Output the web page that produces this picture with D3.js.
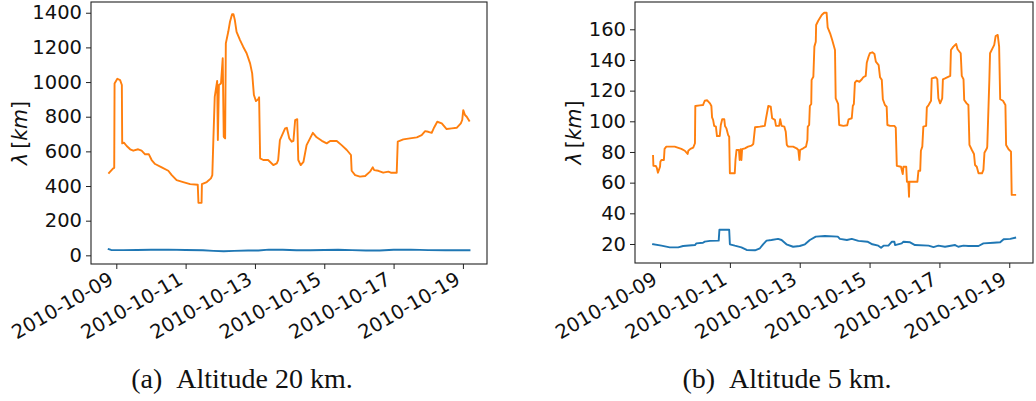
<!DOCTYPE html>
<html><head><meta charset="utf-8">
<script src="https://cdn.jsdelivr.net/npm/d3@7"></script>
<style>body{margin:0;background:#fff}svg{display:block}</style>
</head><body>
<svg id="c" width="1036" height="401"></svg>
<script>
// Day-of-October (fractional, UTC) and values
const tA_orange = [8.79,8.91,8.94,8.95,9.03,9.11,9.16,9.17,9.22,9.30,9.40,9.49,9.63,9.73,9.83,9.94,10.02,10.12,10.31,10.50,10.60,10.74,10.93,11.13,11.35,11.37,11.46,11.47,11.61,11.73,11.77,11.80,11.84,11.91,11.93,11.96,12.02,12.07,12.10,12.14,12.16,12.23,12.28,12.34,12.38,12.42,12.47,12.57,12.66,12.76,12.86,12.92,12.97,13.03,13.09,13.12,13.15,13.24,13.38,13.53,13.63,13.67,13.72,13.87,13.92,13.99,14.06,14.11,14.16,14.22,14.25,14.32,14.40,14.49,14.59,14.67,14.78,14.93,15.07,15.17,15.36,15.50,15.65,15.77,15.79,15.89,16.03,16.18,16.32,16.40,16.44,16.56,16.70,16.85,16.92,17.09,17.12,17.28,17.47,17.67,17.81,17.91,18.00,18.10,18.17,18.26,18.39,18.53,18.68,18.82,18.94,18.98,19.01,19.06,19.11,19.18];
const vA_orange = [476,502,505,992,1019,1011,983,646,650,631,612,604,612,604,583,583,550,527,508,488,463,434,423,411,407,303,303,411,423,444,463,665,915,1006,665,983,992,1137,684,675,1223,1290,1348,1392,1392,1358,1290,1242,1204,1166,1108,1050,925,890,900,912,560,550,550,521,531,550,665,733,736,675,656,661,781,786,550,521,540,636,675,707,681,661,646,660,660,636,608,579,488,463,454,458,483,508,492,488,477,483,477,477,656,669,675,681,694,717,713,707,738,771,762,729,733,736,762,781,838,810,800,777];
const tA_blue = [8.78,8.85,9.2,9.6,10.0,10.5,11.0,11.5,11.8,12.1,12.4,12.8,13.1,13.4,13.8,14.2,14.6,15.0,15.4,15.8,16.2,16.6,17.0,17.5,18.0,18.5,19.19];
const vA_blue = [36,31,30,31,32,33,31,29,26,24,26,28,28,33,32,29,29,31,32,30,28,28,32,33,30,29,29];

const tB_orange = [8.80,8.81,8.88,8.91,8.94,9.00,9.01,9.04,9.11,9.13,9.18,9.42,9.61,9.71,9.79,9.81,9.87,9.95,10.00,10.01,10.14,10.23,10.28,10.35,10.43,10.47,10.49,10.52,10.55,10.60,10.63,10.71,10.74,10.78,10.84,10.86,10.90,10.95,10.98,11.00,11.14,11.16,11.19,11.26,11.28,11.31,11.33,11.35,11.43,11.52,11.62,11.67,11.72,11.86,12.00,12.03,12.10,12.17,12.21,12.29,12.32,12.41,12.44,12.48,12.56,12.60,12.63,12.67,12.81,12.91,12.96,12.99,13.01,13.10,13.18,13.22,13.23,13.27,13.29,13.33,13.34,13.39,13.42,13.46,13.47,13.53,13.63,13.70,13.77,13.80,13.87,13.93,14.01,14.03,14.10,14.13,14.25,14.36,14.40,14.49,14.52,14.55,14.58,14.63,14.71,14.78,14.82,14.89,14.92,14.97,15.01,15.08,15.14,15.18,15.26,15.30,15.35,15.38,15.44,15.49,15.51,15.59,15.71,15.75,15.78,15.90,15.95,15.97,16.05,16.07,16.11,16.13,16.14,16.37,16.40,16.45,16.47,16.51,16.54,16.62,16.64,16.69,16.76,16.78,16.90,16.94,16.97,17.02,17.08,17.10,17.16,17.31,17.33,17.40,17.48,17.52,17.61,17.64,17.69,17.71,17.78,17.83,17.86,17.93,17.99,18.02,18.07,18.12,18.22,18.26,18.29,18.36,18.37,18.43,18.45,18.52,18.57,18.61,18.67,18.71,18.74,18.82,18.89,18.91,18.98,19.05,19.07,19.17];
const vB_orange = [77.4,71,70.9,69.4,66.5,70.4,73.7,74.8,74.8,82,83.5,83.5,82,80.8,78.7,80.8,82,82.8,85.7,110,110.4,110.6,113.4,113.7,111.7,110,102.6,100.9,97,96.5,90.4,90.4,97.6,101.3,101.3,97,95.4,91.1,90,66.1,66.1,74.8,81.3,81.3,74.8,81.8,74.8,81.8,82.4,83.5,84.1,85.2,96.1,96.5,97,101.3,110,109.5,102,100.9,97,97,101.3,97,96.5,93.2,84.6,83.5,83.5,82.4,81.3,74.8,81.3,82.4,83.5,87.8,96.5,97.6,110,111.3,127,129.1,148.7,151.9,162.8,165.6,169.3,170.8,170.8,161.3,157.4,153,146.5,115,111.3,97.6,97,97.4,101.3,102,110,111.3,125.2,126.5,125.8,127.4,128.7,129.6,138.2,142.1,144.4,145,143.9,138.9,136.7,128.7,127,114.4,110.6,109.5,97.6,97,97,95.9,70.9,70.4,65.6,70.4,70.4,60.6,60.6,50.8,60.6,60.6,67.8,67.8,80.8,83.5,96.5,97,109.1,110.6,113.4,128,128.7,127.4,115,111.7,115,127.4,128,129.6,146.5,148.7,150.4,147,144.4,129.6,127.4,113.9,111.7,110.6,84.6,81.3,78.7,71.5,70.4,66.1,66.1,68.3,79.5,82.4,83.5,127,144.4,147.6,149.8,155.6,156.3,148.7,114.4,113.4,110.6,84.6,81.8,80.2,52,52];
const tB_blue = [8.80,9.04,9.28,9.52,9.66,10.00,10.04,10.23,10.28,10.43,10.68,10.70,10.98,11.00,11.14,11.33,11.48,11.72,11.86,11.95,12.05,12.19,12.38,12.48,12.62,12.81,13.00,13.15,13.29,13.46,13.72,14.09,14.15,14.35,14.49,14.68,14.94,15.08,15.25,15.33,15.40,15.54,15.64,15.71,15.73,15.92,15.97,16.16,16.30,16.69,16.83,16.97,17.16,17.45,17.54,17.69,17.83,18.12,18.26,18.55,18.74,18.84,19.03,19.17];
const vB_blue = [19.8,18.9,17.8,17.8,18.7,19.3,20.4,20.8,21.5,22,22.2,29.3,29.3,19.8,18.9,17.8,16.1,15.9,17.2,19.8,22.2,22.6,23.3,22.6,19.8,18.2,18.7,19.8,22.6,24.8,25.2,24.8,23.3,22.6,23.3,22,21.5,19.8,18.9,17.6,18.9,18.9,21.5,21.5,19.3,20.4,21.5,21.1,19.3,18.9,18,18.9,18.2,19.3,18.2,18.9,18.7,18.7,20.4,20.8,21.1,23.1,23.3,24.1];

const xTickDays = [9,11,13,15,17,19];
const yTicksA = [0,200,400,600,800,1000,1200,1400];
const yTicksB = [20,40,60,80,100,120,140,160];
const captions = ["(a)\u2002Altitude 20 km.", "(b)\u2002Altitude 5 km."];

const BLUE = "#1f77b4", ORANGE = "#ff7f0e";
const FS = 19.5;
const day = d => new Date(Date.UTC(2010, 9, 1) + (d - 1) * 86400000);
const fmt = d3.utcFormat("%Y-%m-%d");
const svg = d3.select("#c");

function panel(cfg) {
  const {x0, x1, y0, y1, xdom, ydom, yTicks, series, labelX, caption, capX} = cfg;
  const x = d3.scaleUtc().domain(xdom.map(day)).range([x0, x1]);
  const y = d3.scaleLinear().domain(ydom).range([y1, y0]);
  const g = svg.append("g");
  const clipId = "clip" + x0;
  g.append("clipPath").attr("id", clipId).append("rect")
    .attr("x", x0).attr("y", y0).attr("width", x1 - x0).attr("height", y1 - y0);
  const line = d3.line().x(d => x(day(d[0]))).y(d => y(d[1]));
  series.forEach(s => {
    g.append("path").attr("clip-path", `url(#${clipId})`)
      .datum(d3.zip(s.t, s.v)).attr("d", line)
      .attr("fill", "none").attr("stroke", s.color).attr("stroke-width", 1.9)
      .attr("stroke-linejoin", "round").attr("stroke-linecap", "square");
  });
  g.append("rect").attr("x", x0).attr("y", y0).attr("width", x1 - x0).attr("height", y1 - y0)
    .attr("fill", "none").attr("stroke", "#222").attr("stroke-width", 1.1);
  const ya = g.append("g").attr("transform", `translate(${x0},0)`)
    .call(d3.axisLeft(y).tickValues(yTicks).tickSize(5).tickPadding(4).tickFormat(d3.format("d")));
  ya.select(".domain").remove();
  ya.selectAll("line").attr("stroke", "#222");
  ya.selectAll("text").attr("font-family", "DejaVu Sans").attr("font-size", FS).attr("fill", "#111");
  const xa = g.append("g").attr("transform", `translate(0,${y1})`)
    .call(d3.axisBottom(x).tickValues(xTickDays.map(day)).tickSize(5).tickFormat(fmt));
  xa.select(".domain").remove();
  xa.selectAll("line").attr("stroke", "#222");
  xa.selectAll("text")
    .attr("font-family", "DejaVu Sans").attr("font-size", FS).attr("fill", "#111")
    .attr("text-anchor", "end").attr("dy", 0).attr("y", 0)
    .attr("transform", `translate(-2,${283 - y1}) rotate(-30)`);
  const yl = g.append("text").attr("transform", `translate(${labelX},${(y0 + y1) / 2}) rotate(-90)`)
    .attr("text-anchor", "middle").attr("font-family", "DejaVu Sans").attr("font-size", 20.5).attr("fill", "#111");
  yl.append("tspan").attr("font-style", "italic").text("λ");
  yl.append("tspan").text("\u2009[");
  yl.append("tspan").attr("font-style", "italic").text("km");
  yl.append("tspan").text("]");
  svg.append("text").attr("x", capX).attr("y", 388).attr("text-anchor", "middle")
    .attr("font-family", "Liberation Serif").attr("font-size", 28).attr("fill", "#111").text(caption);
}

panel({x0: 91, x1: 487, y0: 2, y1: 264, xdom: [8.27, 19.695], ydom: [-50, 1462], yTicks: yTicksA,
  series: [{t: tA_blue, v: vA_blue, color: BLUE}, {t: tA_orange, v: vA_orange, color: ORANGE}],
  labelX: 27, caption: captions[0], capX: 242});
panel({x0: 635, x1: 1033, y0: 2, y1: 263, xdom: [8.283, 19.68], ydom: [7.6, 177.8], yTicks: yTicksB,
  series: [{t: tB_blue, v: vB_blue, color: BLUE}, {t: tB_orange, v: vB_orange, color: ORANGE}],
  labelX: 581, caption: captions[1], capX: 787});
</script>
</body></html>
